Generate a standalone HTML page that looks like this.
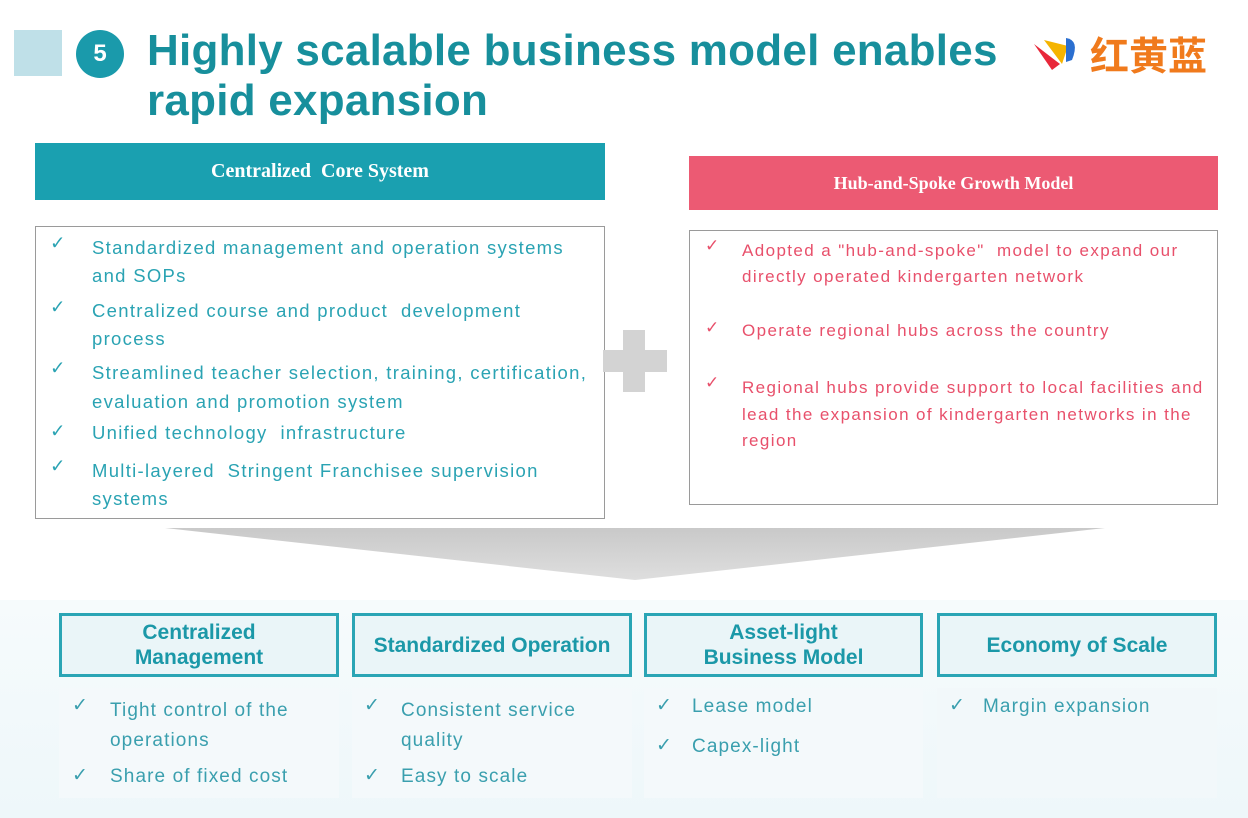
<!DOCTYPE html>
<html><head><meta charset="utf-8"><style>
body{margin:0;width:1248px;height:818px;background:#fff;position:relative;overflow:hidden;font-family:"Liberation Sans",sans-serif}
.a{position:absolute}
.t{color:#178f9c;font-weight:bold;font-size:44px;line-height:50px}
.hl{color:#fff;font-family:"Liberation Serif",serif;font-weight:bold;text-align:center}
.l{color:#2aa3b3;font-size:18.5px;white-space:nowrap;letter-spacing:1.3px}
.r{color:#e8506b;font-size:17px;white-space:nowrap;letter-spacing:1.4px}
.b{color:#3a9fae;font-size:19px;white-space:nowrap;letter-spacing:1.1px}
.c{letter-spacing:0}
.bx{border:3px solid #2aa5b5;background:#eaf5f8;box-sizing:border-box;color:#1b98a8;font-weight:bold;font-size:21px;line-height:25px;display:flex;align-items:center;justify-content:center;text-align:center}
</style></head><body>
<div class="a" style="left:14px;top:30px;width:48px;height:46px;background:#bfe0e8"></div>
<div class="a" style="left:76px;top:30px;width:48px;height:48px;border-radius:50%;background:#1a9aab;color:#fff;font-weight:bold;font-size:24px;line-height:48px;text-align:center">5</div>
<div class="a t" style="left:147px;top:26px;letter-spacing:0.25px">Highly scalable business model enables<br>rapid expansion</div>
<svg class="a" style="left:1032px;top:34px" width="60" height="40"><path d="M2 10 L20 36 L28 30 Z" fill="#e8283a"/><path d="M12 6 L30 30 L36 12 Z" fill="#f5b400"/><path d="M34 4 Q48 6 40 26 L34 28 Z" fill="#2b6fd0"/></svg>
<div class="a" style="left:1090px;top:32px;font-family:'Noto Sans CJK SC',sans-serif;font-size:39px;line-height:44px;color:#f07a1c;font-weight:bold">红黄蓝</div>
<div class="a hl" style="left:35px;top:143px;width:570px;height:57px;background:#1aa0b0;font-size:20px;line-height:57px">Centralized &nbsp;Core System</div>
<div class="a hl" style="left:689px;top:156px;width:529px;height:54px;background:#ec5a73;font-size:18px;line-height:54px">Hub-and-Spoke Growth Model</div>
<div class="a" style="left:35px;top:226px;width:568px;height:291px;border:1.5px solid #9a9a9a"></div>
<div class="a" style="left:689px;top:230px;width:527px;height:273px;border:1.5px solid #9a9a9a"></div>
<div class="a l c" style="left:50px;top:232px">✓</div>
<div class="a l c" style="left:50px;top:296px">✓</div>
<div class="a l c" style="left:50px;top:357px">✓</div>
<div class="a l c" style="left:50px;top:420px">✓</div>
<div class="a l c" style="left:50px;top:455px">✓</div>
<div class="a l" style="left:92px;top:234px;line-height:27.5px">Standardized management and operation systems<br>and SOPs</div>
<div class="a l" style="left:92px;top:297px;line-height:28px">Centralized course and product &nbsp;development<br>process</div>
<div class="a l" style="left:92px;top:358px;line-height:29px">Streamlined teacher selection, training, certification,<br>evaluation and promotion system</div>
<div class="a l" style="left:92px;top:422px">Unified technology &nbsp;infrastructure</div>
<div class="a l" style="left:92px;top:457px;line-height:28px">Multi-layered &nbsp;Stringent Franchisee supervision<br>systems</div>
<svg class="a" style="left:603px;top:330px" width="64" height="64"><rect x="20" y="0" width="22" height="62" fill="#d3d3d3"/><rect x="0" y="20" width="64" height="22" fill="#d3d3d3"/></svg>
<div class="a r c" style="left:705px;top:236px">✓</div>
<div class="a r" style="left:742px;top:238px;line-height:26px">Adopted a "hub-and-spoke" &nbsp;model to expand our<br>directly operated kindergarten network</div>
<div class="a r c" style="left:705px;top:318px">✓</div>
<div class="a r" style="left:742px;top:321px">Operate regional hubs across the country</div>
<div class="a r c" style="left:705px;top:373px">✓</div>
<div class="a r" style="left:742px;top:375px;line-height:26.5px">Regional hubs provide support to local facilities and<br>lead the expansion of kindergarten networks in the<br>region</div>
<svg class="a" style="left:0;top:520px" width="1248" height="70"><defs><linearGradient id="g" x1="0" y1="0" x2="0" y2="1"><stop offset="0" stop-color="#c9c9c9"/><stop offset="1" stop-color="#dedede"/></linearGradient></defs><polygon points="165,8 1105,8 635,60" fill="url(#g)"/></svg>
<div class="a" style="left:0;top:600px;width:1248px;height:218px;background:linear-gradient(#f6fbfc,#eef7fa)"></div>
<div class="a bx" style="left:59px;top:613px;width:280px;height:64px">Centralized<br>Management</div>
<div class="a bx" style="left:352px;top:613px;width:280px;height:64px">Standardized Operation</div>
<div class="a bx" style="left:644px;top:613px;width:279px;height:64px">Asset-light<br>Business Model</div>
<div class="a bx" style="left:937px;top:613px;width:280px;height:64px">Economy of Scale</div>
<div class="a" style="left:59px;top:688px;width:280px;height:110px;background:#f4f9fb"></div>
<div class="a" style="left:352px;top:688px;width:280px;height:110px;background:#f4f9fb"></div>
<div class="a" style="left:644px;top:688px;width:279px;height:110px;background:#f4f9fb"></div>
<div class="a" style="left:937px;top:688px;width:280px;height:110px;background:#f2f8fa"></div>
<div class="a b c" style="left:72px;top:694px">✓</div>
<div class="a b" style="left:110px;top:696px;line-height:30px">Tight control of the<br>operations</div>
<div class="a b c" style="left:72px;top:764px">✓</div>
<div class="a b" style="left:110px;top:766px">Share of fixed cost</div>
<div class="a b c" style="left:364px;top:694px">✓</div>
<div class="a b" style="left:401px;top:696px;line-height:30px">Consistent service<br>quality</div>
<div class="a b c" style="left:364px;top:764px">✓</div>
<div class="a b" style="left:401px;top:766px">Easy to scale</div>
<div class="a b c" style="left:656px;top:694px">✓</div>
<div class="a b" style="left:692px;top:696px">Lease model</div>
<div class="a b c" style="left:656px;top:734px">✓</div>
<div class="a b" style="left:692px;top:736px">Capex-light</div>
<div class="a b c" style="left:949px;top:694px">✓</div>
<div class="a b" style="left:983px;top:696px">Margin expansion</div>
</body></html>
